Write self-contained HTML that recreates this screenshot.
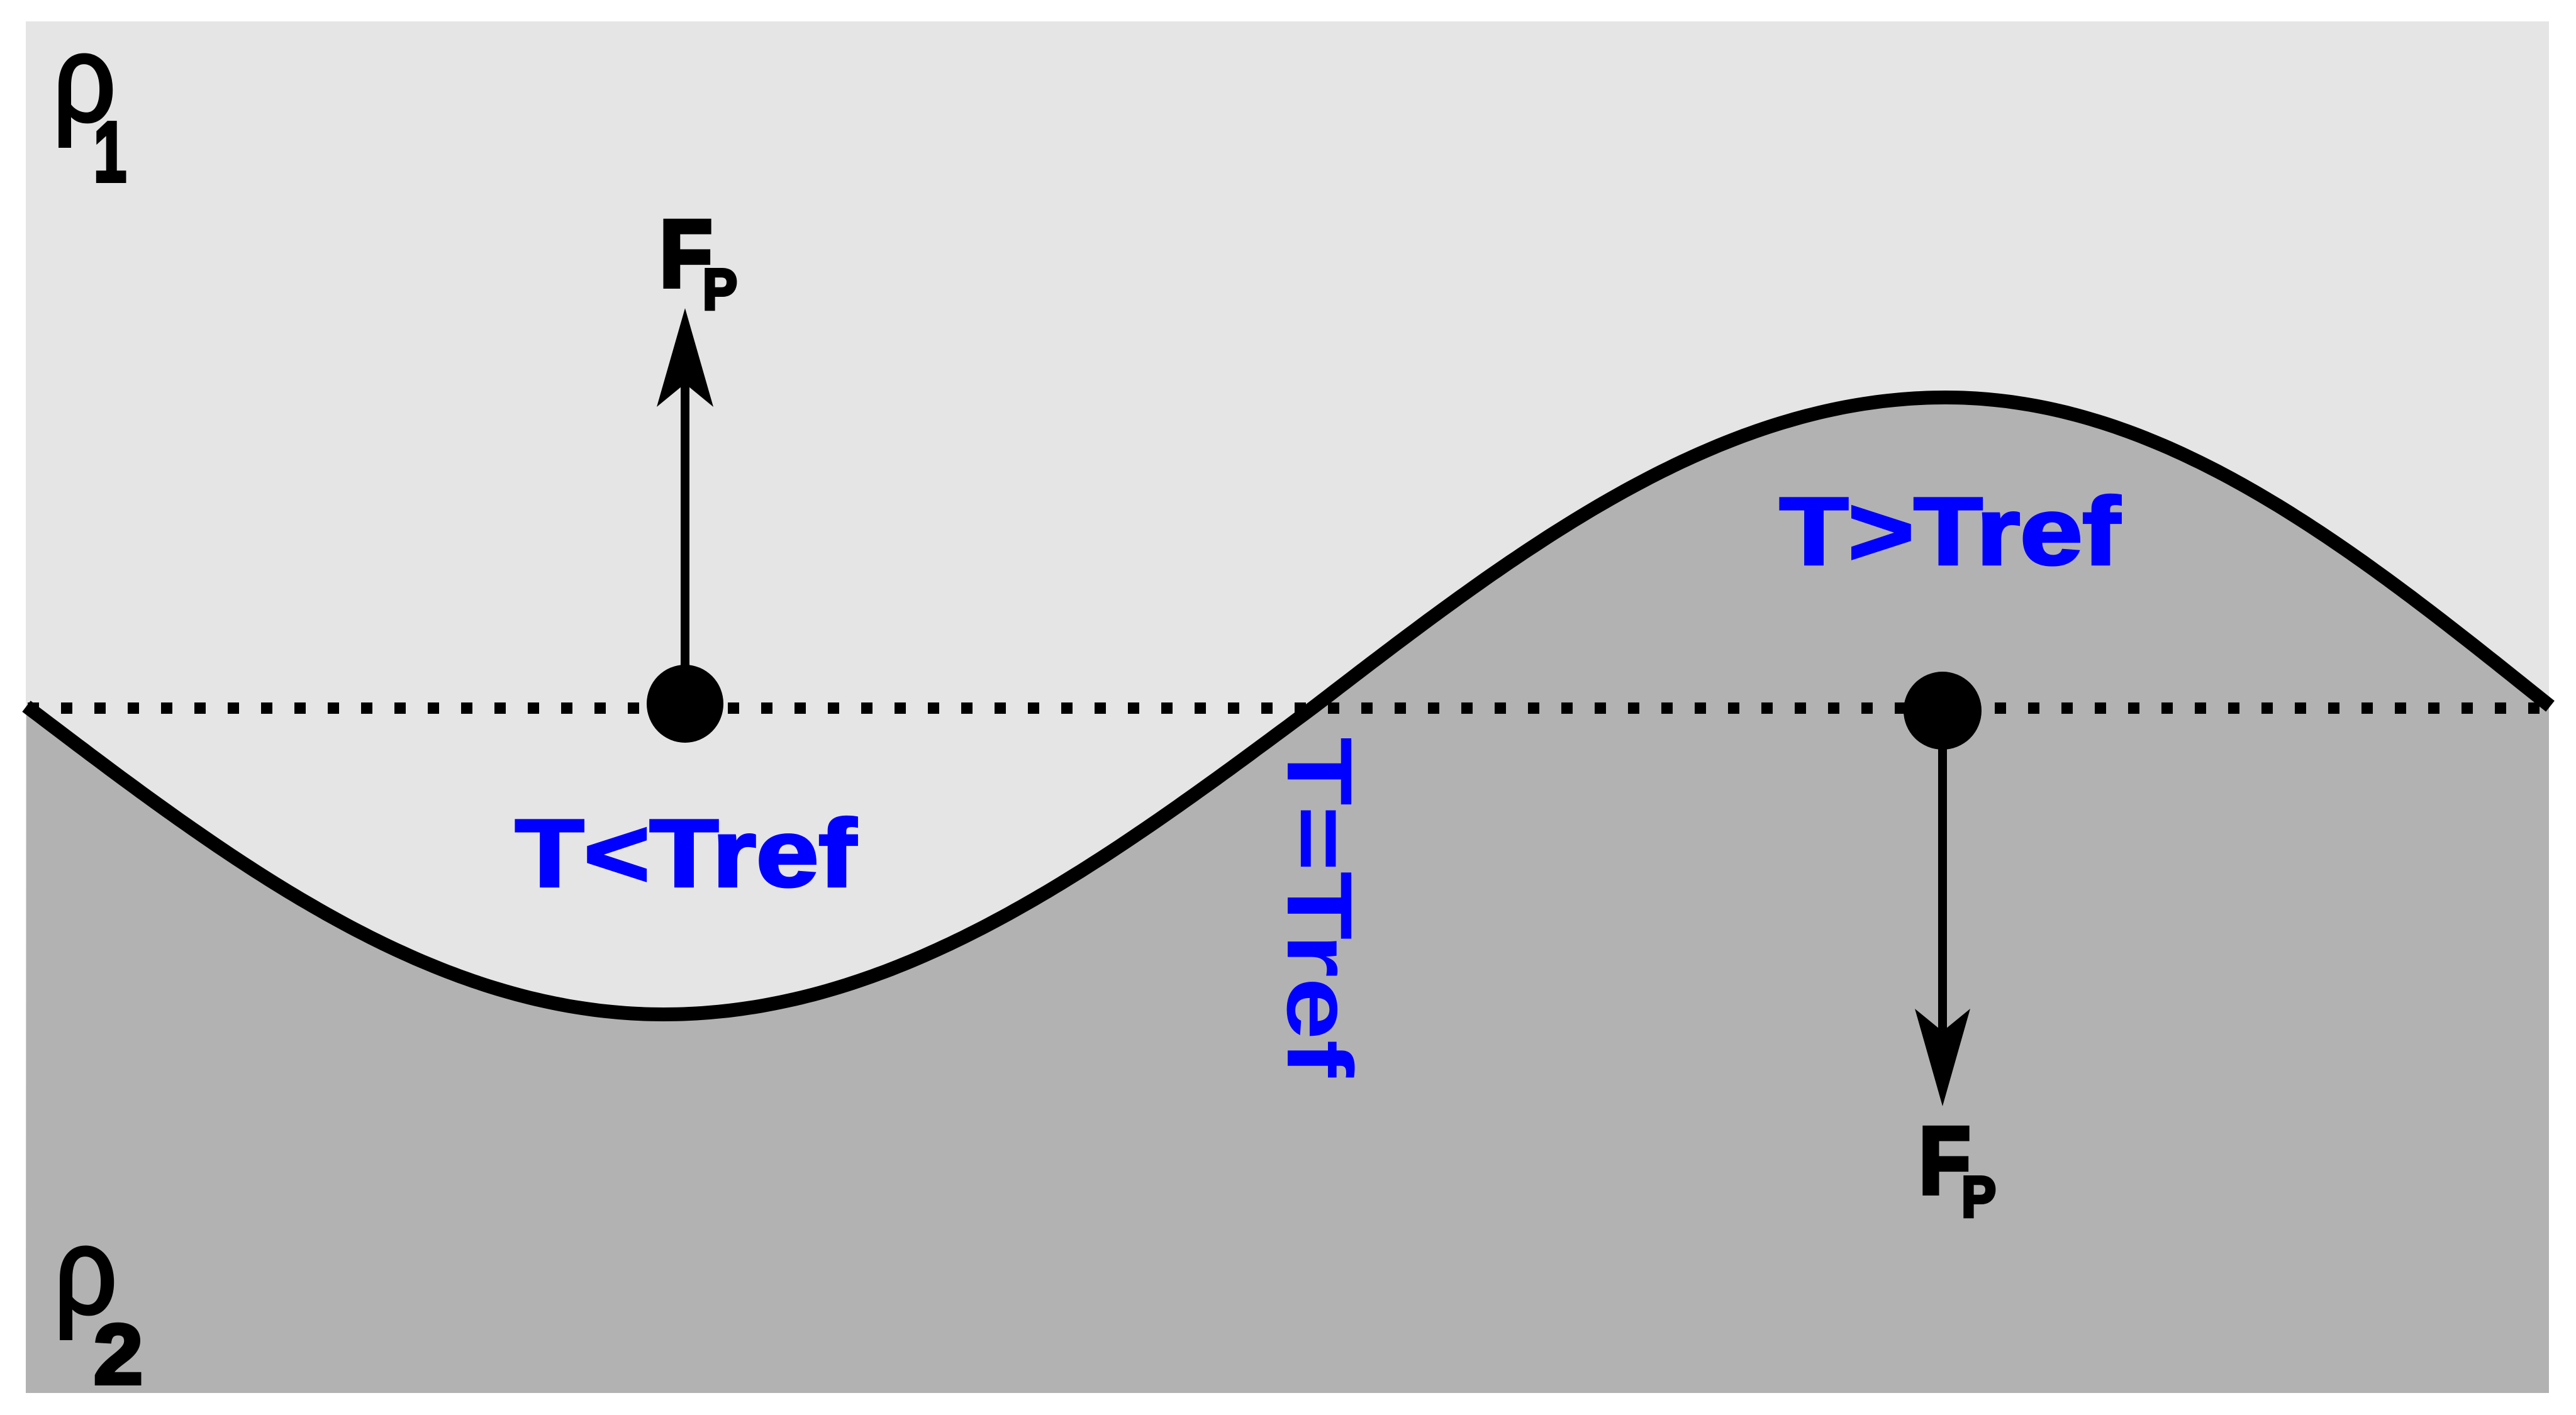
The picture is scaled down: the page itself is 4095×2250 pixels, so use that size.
<!DOCTYPE html>
<html><head><meta charset="utf-8"><style>html,body{margin:0;padding:0;background:#fff}svg{display:block}</style></head>
<body>
<svg width="4095" height="2250" viewBox="0 0 4095 2250" xmlns="http://www.w3.org/2000/svg">
<defs><clipPath id="c"><rect x="41" y="34" width="4011" height="2181"/></clipPath></defs>
<rect x="41" y="34" width="4011" height="2181" fill="#e5e5e5"/>
<g clip-path="url(#c)">
<path id="fill" d="" fill="#b2b2b2"/>
</g>
<path id="curve" d="" fill="none" stroke="#000" stroke-width="22" stroke-linejoin="round"/>
<line x1="44" y1="1126" x2="4052" y2="1126" stroke="#000" stroke-width="18" stroke-dasharray="18 35"/>
<line x1="1089" y1="1119" x2="1089" y2="600" stroke="#000" stroke-width="14"/>
<polygon points="1089,490 1134,647 1089,610 1044,647" fill="#000"/>
<ellipse cx="1089" cy="1119" rx="61" ry="62" fill="#000"/>
<line x1="3088" y1="1130" x2="3088" y2="1660" stroke="#000" stroke-width="14"/>
<polygon points="3088,1759 3132,1604 3088,1640 3044,1604" fill="#000"/>
<ellipse cx="3088" cy="1130" rx="62" ry="62" fill="#000"/>
<g style="font-family:'Liberation Sans',Arial,sans-serif;font-weight:bold">
<text x="1049" y="455" font-size="150" stroke="#000" stroke-width="8" textLength="83" lengthAdjust="spacingAndGlyphs">F</text>
<text x="1117" y="492" font-size="92" stroke="#000" stroke-width="5" textLength="55" lengthAdjust="spacingAndGlyphs">P</text>
<text x="3051" y="1897" font-size="150" stroke="#000" stroke-width="8" textLength="81" lengthAdjust="spacingAndGlyphs">F</text>
<text x="3118" y="1935" font-size="92" stroke="#000" stroke-width="5" textLength="55" lengthAdjust="spacingAndGlyphs">P</text>
<text transform="translate(819,1409) scale(1,1.1)" font-size="138" fill="#0000ff" stroke="#0000ff" stroke-width="4" textLength="542" lengthAdjust="spacingAndGlyphs">T&lt;Tref</text>
<text transform="translate(2829,897) scale(1,1.1)" font-size="138" fill="#0000ff" stroke="#0000ff" stroke-width="4" textLength="541" lengthAdjust="spacingAndGlyphs">T&gt;Tref</text>
<text transform="translate(2047,1172) rotate(90)" font-size="147" fill="#0000ff" textLength="541" lengthAdjust="spacingAndGlyphs">T=Tref</text>
<text x="149" y="288" font-size="135" stroke="#000" stroke-width="6" textLength="52" lengthAdjust="spacingAndGlyphs">1</text>
<text x="149" y="2200" font-size="135" stroke="#000" stroke-width="6" textLength="78" lengthAdjust="spacingAndGlyphs">2</text>
</g>
<g style="font-family:'Liberation Sans',Arial,sans-serif">
<text x="84" y="192" font-size="195" stroke="#000" stroke-width="5" textLength="100" lengthAdjust="spacingAndGlyphs">ρ</text>
<text x="86" y="2088" font-size="195" stroke="#000" stroke-width="5" textLength="100" lengthAdjust="spacingAndGlyphs">ρ</text>
</g>
<script>
(function(){
 var pts=[];
 var segs=[[42,1055,function(t){return 1123+490*Math.sin(t*Math.PI/2);}],
           [1055,2090,function(t){return 1123+490*Math.cos(t*Math.PI/2);}],
           [2090,3093,function(t){return 1123-491*Math.sin(t*Math.PI/2);}],
           [3093,4054,function(t){return 1123-491*Math.cos(t*Math.PI/2);}]];
 segs.forEach(function(s,i){
   var n=100;
   for(var k=(i?1:0);k<=n;k++){var t=k/n;var x=s[0]+(s[1]-s[0])*t;pts.push(x.toFixed(1)+','+s[2](t).toFixed(1));}
 });
 var d='M'+pts.join(' L');
 document.getElementById('curve').setAttribute('d',d);
 document.getElementById('fill').setAttribute('d',d+' L4054,2215 L41,2215 Z');
})();
</script>
</svg>
</body></html>
